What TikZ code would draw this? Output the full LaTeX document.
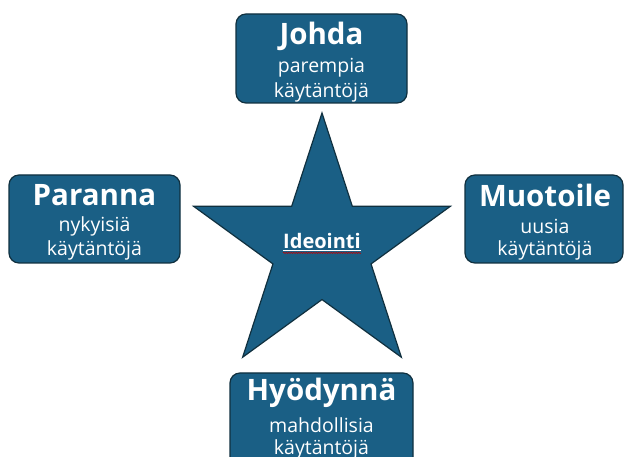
\documentclass[tikz,border=0pt]{standalone}
\usepackage{fontspec}
\setmainfont{Open Sans}
\usetikzlibrary{shapes.geometric,calc,decorations.pathmorphing}
\definecolor{boxfill}{HTML}{1A5F85}
\definecolor{boxline}{HTML}{10303F}
\tikzset{
  box/.style={draw=boxline, line width=1.2pt, fill=boxfill, rounded corners=10pt},
  title/.style={text=white, font=\fontsize{29.5}{31}\selectfont\bfseries, inner sep=0pt},
  sub/.style={text=white, font=\fontsize{19.5}{21}\selectfont, inner sep=0pt},
}
\begin{document}
\begin{tikzpicture}[x=1pt,y=-1pt]
\useasboundingbox (0,0) rectangle (625,457);
\clip (0,0) rectangle (625,457);
% star
\node[star, star points=5, star point ratio=2.618, minimum size=270pt, inner sep=0pt,
      draw=boxline, line width=1.2pt, fill=boxfill] (star) at (322,248) {};
\node[text=white, font=\fontsize{20}{22}\selectfont\bfseries, inner sep=0pt] (idea) at (322,241) {Ideointi};
\draw[white, line width=1pt] ($(idea.south west)+(0,1.5)$) -- ($(idea.south east)+(0,1.5)$);
\draw[red!75!black, line width=0.5pt, decorate, decoration={snake, amplitude=0.7pt, segment length=2.5pt}]
  ($(idea.south west)+(0,4)$) -- ($(idea.south east)+(0,4)$);
% boxes
\path[box] (236,14) rectangle (407,103);
\node[title] (j1) at (321.5,36) {Johda};
\node[sub] (j2) at (321.5,68) {parempia};
\node[sub] (j3) at (321.5,92) {käytäntöjä};

\path[box] (9,175) rectangle (180,263);
\node[title] (p1) at (94.5,195) {Paranna};
\node[sub] (p2) at (94.5,226) {nykyisiä};
\node[sub] (p3) at (94.5,250) {käytäntöjä};

\path[box] (465,175) rectangle (623,263);
\node[title] (m1) at (545,195) {Muotoile};
\node[sub] (m2) at (545,226) {uusia};
\node[sub] (m3) at (545,250) {käytäntöjä};

\path[box] (230,373) rectangle (413,470);
\node[title] (h1) at (321.5,393) {Hyödynnä};
\node[sub] (h2) at (321.5,425) {mahdollisia};
\node[sub] (h3) at (321.5,449) {käytäntöjä};
\end{tikzpicture}
\end{document}
